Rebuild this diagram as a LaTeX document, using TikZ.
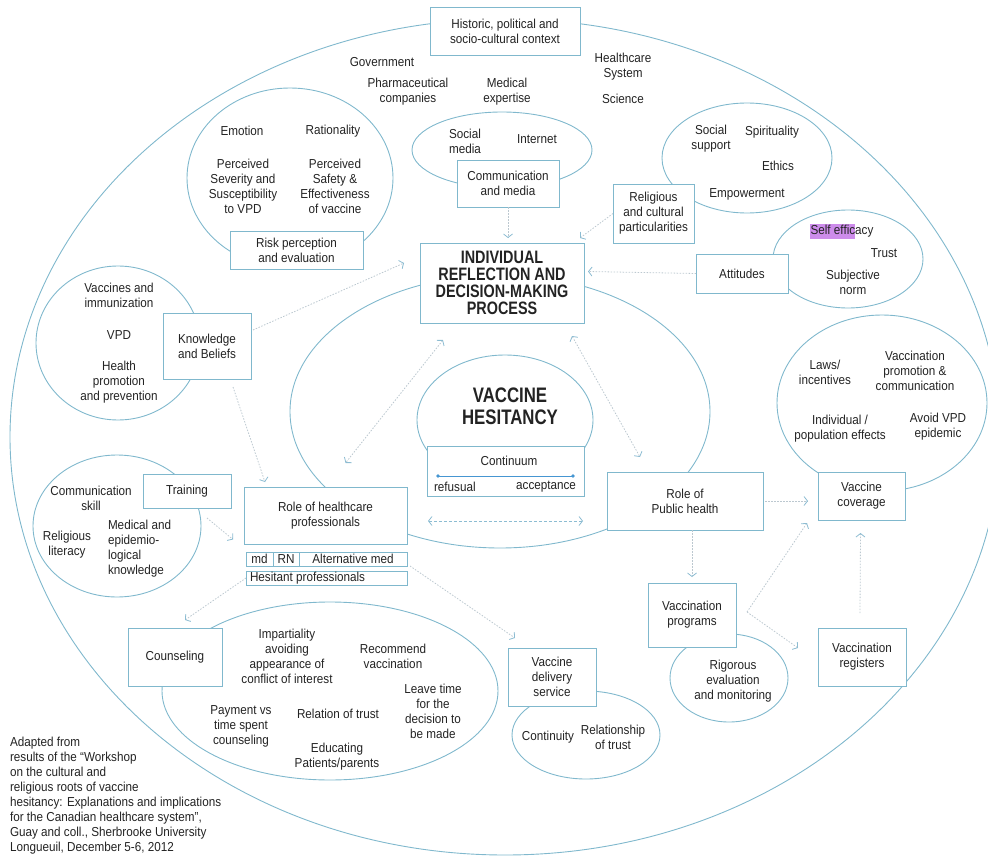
\documentclass[tikz,border=0pt]{standalone}
\usepackage{fontspec}
\setmainfont{Liberation Sans}[FakeStretch=0.9]
\newfontfamily\headfont{Liberation Sans}[FakeStretch=0.8]
\usetikzlibrary{arrows.meta,calc}
\definecolor{linecol}{RGB}{128,184,205}
\definecolor{arrcol}{RGB}{140,188,210}
\definecolor{dotcol}{RGB}{188,200,208}
\definecolor{textcol}{RGB}{35,35,35}
\definecolor{markcol}{RGB}{205,140,235}
\definecolor{contcol}{RGB}{70,150,210}

\begin{document}
\begin{tikzpicture}[x=1pt,y=-1pt,
  every node/.style={font=\fontsize{13}{15}\selectfont, text=textcol, align=center, inner sep=0pt, outer sep=0pt},
  outline/.style={draw=linecol, line width=0.9pt},
  frame/.style={draw=linecol, line width=0.9pt, fill=white},
  cell/.style={frame, minimum height=14pt, anchor=north west},
  head/.style={font=\headfont\bfseries\fontsize{18}{17}\selectfont},
  bighead/.style={font=\headfont\bfseries\fontsize{21}{22}\selectfont},
  link/.style={draw=dotcol, line width=0.8pt, dash pattern=on 1.5pt off 1.5pt,
    -{Straight Barb[length=3.5pt,width=9pt,line width=0.8pt,color=arrcol]}},
  link2/.style={link, {Straight Barb[length=3.5pt,width=9pt,line width=0.8pt,color=arrcol]}-{Straight Barb[length=3.5pt,width=9pt,line width=0.8pt,color=arrcol]}},
  dlink/.style={draw=arrcol, line width=0.8pt, dash pattern=on 3pt off 2pt,
    {Straight Barb[length=3.5pt,width=9pt,line width=0.8pt]}-{Straight Barb[length=3.5pt,width=9pt,line width=0.8pt]}},
]
\useasboundingbox (0,0) rectangle (988,856);
\clip (0,0) rectangle (988,856);

% ---------- ellipses ----------
\draw[outline] (505,437) ellipse [x radius=495pt, y radius=418pt];
\draw[outline] (290,178) ellipse [x radius=103pt, y radius=90pt];
\draw[outline] (502,150) ellipse [x radius=90pt, y radius=38pt];
\draw[outline] (747,158) ellipse [x radius=85pt, y radius=55pt];
\draw[outline] (848,259) ellipse [x radius=75pt, y radius=49pt];
\draw[outline] (118,343) ellipse [x radius=82pt, y radius=77pt];
\draw[outline] (117,526) ellipse [x radius=84pt, y radius=71pt];
\draw[outline] (500,411.5) ellipse [x radius=210pt, y radius=136.5pt];
\draw[outline] (505,420) ellipse [x radius=88pt, y radius=65pt];
\draw[outline] (882,403) ellipse [x radius=105pt, y radius=88pt];
\draw[outline] (729,678) ellipse [x radius=59pt, y radius=44pt];
\draw[outline] (586,735) ellipse [x radius=74pt, y radius=44pt];
\draw[outline] (330,691) ellipse [x radius=168pt, y radius=89pt];

% ---------- boxes ----------
\node[frame, minimum width=150pt, minimum height=48pt] (ctx) at (505,31) {Historic, political and\\socio-cultural context};
\node[frame, minimum width=133pt, minimum height=38pt] (risk) at (296.5,250) {Risk perception\\and evaluation};
\node[frame, minimum width=102pt, minimum height=47pt] (comm) at (508,183.5) {Communication\\and media};
\node[frame, minimum width=81pt, minimum height=59pt] (relig) at (653.5,213.5) {Religious\\and cultural\\particularities};
\node[frame, minimum width=92pt, minimum height=39pt] (att) at (742,273.5) {Attitudes};
\node[frame, minimum width=164pt, minimum height=80pt, head] (indiv) at (502,283) {INDIVIDUAL\\REFLECTION AND\\DECISION-MAKING\\PROCESS};
\node[frame, minimum width=88pt, minimum height=66pt] (know) at (207,346) {Knowledge\\and Beliefs};
\node[frame, minimum width=88pt, minimum height=34pt] (train) at (187,491) {Training};
\node[frame, minimum width=163pt, minimum height=57pt] (rhp) at (325.5,515.5) {Role of healthcare\\professionals};
\node[cell, minimum width=27pt] (md) at (246,552) {md};
\node[cell, minimum width=26pt] (rn) at (273,552) {RN};
\node[cell, minimum width=108pt] (alt) at (299,552) {Alternative med};
\node[cell, minimum width=161pt] (hes) at (246,571) {};
\node[anchor=west] (heslbl) at ($(hes.west)+(4,0)$) {Hesitant professionals};
\node[frame, minimum width=157pt, minimum height=50pt] (cont) at (505.5,471) {};
\node[frame, minimum width=156pt, minimum height=58pt] (ph) at (685,501) {Role of\\Public health};
\node[frame, minimum width=87pt, minimum height=48pt] (vc) at (861.5,496) {Vaccine\\coverage};
\node[frame, minimum width=88pt, minimum height=64pt] (prog) at (692,615) {Vaccination\\programs};
\node[frame, minimum width=88pt, minimum height=58pt] (reg) at (862,657) {Vaccination\\registers};
\node[frame, minimum width=88pt, minimum height=58pt] (deliv) at (552,677) {Vaccine\\delivery\\service};
\node[frame, minimum width=94pt, minimum height=58pt] (couns) at (175,657) {Counseling};

% ---------- context labels ----------
\node (gov) at (382,62) {Government};
\node (pharma) at (408,92) {Pharmaceutical\\companies};
\node (medexp) at (507,92) {Medical\\expertise};
\node (hcs) at (623,67) {Healthcare\\System};
\node (sci) at (623,99) {Science};

% risk perception
\node (emo) at (242,131) {Emotion};
\node (rat) at (333,131) {Rationality};
\node (sev) at (243,186.5) {Perceived\\Severity and\\Susceptibility\\to VPD};
\node (saf) at (335,186.5) {Perceived\\Safety \&\\Effectiveness\\of vaccine};

% communication
\node (socmed) at (465,141) {Social\\media};
\node (inet) at (537,139) {Internet};

% religious and cultural
\node (socsup) at (711,139) {Social\\support};
\node (spir) at (772,132) {Spirituality};
\node (eth) at (778,166) {Ethics};
\node (emp) at (747,194) {Empowerment};

% attitudes
\fill[markcol] (810,224) rectangle (855,238.5);
\node (selfeff) at (842,231) {Self efficacy};
\node (trust) at (884,253) {Trust};
\node (subj) at (853,282) {Subjective\\norm};

% knowledge
\node (vacimm) at (119,295) {Vaccines and\\immunization};
\node (vpd) at (119,335) {VPD};
\node (healthp) at (119,382) {Health\\promotion\\and prevention};

% training
\node (commsk) at (91,498) {Communication\\skill};
\node (rellit) at (67,545) {Religious\\literacy};
\node[anchor=west, align=left] (medkn) at (108,549) {Medical and\\epidemio-\\logical\\knowledge};

% centre
\node[bighead] (vh) at (510,406) {VACCINE\\HESITANCY};
\node (contlbl) at (509,461) {Continuum};
\coordinate (refpt) at (438,476);
\coordinate (accpt) at (573,476);
\draw[contcol, line width=0.8pt] (refpt) -- (accpt);
\fill[contcol] (refpt) circle (1.8pt) (accpt) circle (1.8pt);
\node[anchor=west] (refu) at (434,487) {refusual};
\node[anchor=east] (accept) at (576,487) {acceptance};

% vaccine coverage
\node (laws) at (825,372) {Laws/\\incentives};
\node (promo) at (915,371) {Vaccination\\promotion \&\\communication};
\node (popeff) at (840,429) {Individual /\\population effects};
\node (avoid) at (938,427) {Avoid VPD\\epidemic};

% programs and delivery
\node (rig) at (733,681) {Rigorous\\evaluation\\and monitoring};
\node (contin) at (548,737) {Continuity};
\node (reltr) at (613,737) {Relationship\\of trust};

% counseling
\node (impart) at (287,656) {Impartiality\\avoiding\\appearance of\\conflict of interest};
\node (recom) at (393,656) {Recommend\\vaccination};
\node (leave) at (433,711) {Leave time\\for the\\decision to\\be made};
\node (pay) at (241,726) {Payment vs\\time spent\\counseling};
\node (reltrust) at (338,714) {Relation of trust};
\node (educ) at (337,757) {Educating\\Patients/parents};

% source note
\node[anchor=north west, align=left] (src) at (10,737) {Adapted from\\results of the “Workshop\\on the cultural and\\religious roots of vaccine\\hesitancy: Explanations and implications\\for the Canadian healthcare system”,\\Guay and coll., Sherbrooke University\\Longueuil, December 5-6, 2012};

% ---------- connectors ----------
\draw[link] (comm.south) -- ($(comm.south |- indiv.north)+(0,-5)$);
\draw[link] (relig.west) -- ($(indiv.north east)+(-4,-5)$);
\draw[link] (att.west) -- ($(indiv.east |- att.west)+(4,-2)$);
\draw[link] ($(know.east)+(2,-16)$) -- ($(indiv.west)+(-16,-20)$);
\draw[link] ($(know.south)+(26,8)$) -- ($(rhp.north west)+(21,-5)$);
\draw[link] ($(train.south)+(20,10)$) -- ($(rhp.west)+(-11,24)$);
\draw[link2] ($(indiv.south west)+(23,17)$) -- ($(rhp.north)+(20,-24)$);
\draw[link2] ($(indiv.south east)+(-12,13)$) -- ($(ph.north west)+(33,-15)$);
\draw[dlink] ($(rhp.east)+(21,5.5)$) -- ($(ph.west)+(-24,20)$);
\draw[link] ($(ph.east)+(2,0)$) -- ($(vc.west)+(-10,5)$);
\draw[link] (prog.north |- ph.south) -- ($(prog.north)+(0,-6)$);
\coordinate (fork) at ($(prog.east)+(11,-3)$);
\draw[link] (fork) -- ($(vc.south west)+(-11,3)$);
\draw[link] (fork) -- ($(reg.west)+(-20,-9)$);
\draw[link] ($(reg.north)+(-2,-15)$) -- ($(vc.south)+(-1,13)$);
\draw[link] ($(alt.south east)+(3,0)$) -- ($(deliv.north west)+(7,-10)$);
\draw[link] (hes.west) -- ($(couns.north)+(10,-8)$);
\end{tikzpicture}
\end{document}
